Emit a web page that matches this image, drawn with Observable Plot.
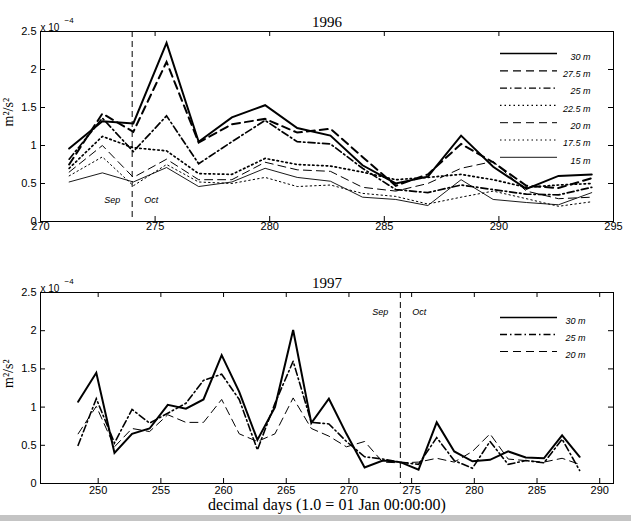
<!DOCTYPE html>
<html><head><meta charset="utf-8">
<script src="https://cdn.jsdelivr.net/npm/d3@7"></script>
<script src="https://cdn.jsdelivr.net/npm/@observablehq/plot@0.6"></script>
<style>
body{margin:0;background:#fff;}
#wrap{position:relative;width:631px;height:521px;overflow:hidden;background:#fff;}
#top,#bot{position:absolute;left:0;}
#top{top:0}
#bot{top:250px}
#strip{position:absolute;left:0;top:515px;width:631px;height:6px;background:#c4c4c4}
</style></head>
<body><div id="wrap"><div id="top"></div><div id="bot"></div><div id="strip"></div></div>
<script>
// ---------- 1996 data (values in units of 1e-4 m^2/s^2) ----------
const days1996 = [271.25, 272.7, 274.05, 275.5, 276.9, 278.35, 279.8, 281.2, 282.65, 284.05, 285.5, 286.9, 288.35, 289.75, 291.2, 292.6, 294.05];
const d96_30   = [0.96, 1.32, 1.29, 2.35, 1.05, 1.37, 1.53, 1.23, 1.13, 0.74, 0.50, 0.59, 1.13, 0.72, 0.43, 0.60, 0.62];
const d96_275  = [0.75, 1.42, 1.18, 2.10, 1.04, 1.28, 1.35, 1.17, 1.22, 0.85, 0.47, 0.62, 1.02, 0.78, 0.47, 0.44, 0.57];
const d96_25   = [0.82, 1.36, 0.92, 1.39, 0.76, 1.05, 1.33, 1.05, 1.02, 0.70, 0.42, 0.38, 0.48, 0.42, 0.36, 0.35, 0.45];
const d96_225  = [0.70, 1.12, 0.97, 0.93, 0.63, 0.62, 0.83, 0.75, 0.73, 0.65, 0.55, 0.58, 0.62, 0.55, 0.45, 0.48, 0.50];
const d96_20   = [0.65, 1.00, 0.58, 0.82, 0.55, 0.55, 0.78, 0.68, 0.66, 0.45, 0.40, 0.50, 0.70, 0.79, 0.40, 0.30, 0.32];
const d96_175  = [0.60, 0.85, 0.47, 0.75, 0.52, 0.50, 0.58, 0.46, 0.48, 0.37, 0.33, 0.23, 0.32, 0.40, 0.30, 0.20, 0.26];
const d96_15   = [0.52, 0.64, 0.52, 0.71, 0.46, 0.52, 0.70, 0.58, 0.53, 0.32, 0.29, 0.21, 0.55, 0.29, 0.25, 0.22, 0.38];
const labels1996 = ["30 m", "27.5 m", "25 m", "22.5 m", "20 m", "17.5 m", "15 m"];

// ---------- 1997 data ----------
const days1997 = [248.4, 249.85, 251.3, 252.7, 254.1, 255.55, 257.0, 258.4, 259.85, 261.25, 262.7, 264.1, 265.55, 267.0, 268.4, 269.8, 271.25, 272.7, 274.1, 275.55, 277.0, 278.4, 279.85, 281.25, 282.7, 284.1, 285.55, 287.0, 288.4];
const d97_30 = [1.07, 1.45, 0.40, 0.65, 0.72, 1.03, 0.98, 1.10, 1.68, 1.20, 0.57, 1.00, 2.01, 0.79, 1.11, 0.65, 0.21, 0.30, 0.28, 0.18, 0.80, 0.42, 0.29, 0.31, 0.42, 0.34, 0.33, 0.63, 0.35];
const d97_25 = [0.50, 1.11, 0.53, 0.97, 0.79, 0.92, 1.05, 1.35, 1.43, 1.10, 0.44, 1.05, 1.60, 0.80, 0.78, 0.55, 0.35, 0.32, 0.28, 0.25, 0.60, 0.30, 0.20, 0.55, 0.25, 0.30, 0.27, 0.58, 0.17];
const d97_20 = [0.65, 1.01, 0.48, 0.72, 0.68, 0.90, 0.80, 0.80, 1.10, 0.65, 0.55, 0.65, 1.12, 0.72, 0.62, 0.48, 0.55, 0.28, 0.27, 0.28, 0.33, 0.28, 0.42, 0.65, 0.32, 0.30, 0.28, 0.33, 0.25];
const labels1997 = ["30 m", "25 m", "20 m"];

// ---------- ticks ----------
const xTicks1996 = [270, 275, 280, 285, 290, 295];
const xTicks1997 = [250, 255, 260, 265, 270, 275, 280, 285, 290];
const yTicks = [0, 0.5, 1, 1.5, 2, 2.5];
const sepOct = [274, 274.1];

// ---------- styles ----------
const SOLID = null, DASH = "8,5", DASHDOT = "7,3,1.5,3", DOT = "1.5,3";
const styles1996 = [
  {w: 2, dash: SOLID}, {w: 2, dash: DASH}, {w: 1.7, dash: DASHDOT}, {w: 1.7, dash: DOT},
  {w: 1, dash: DASH}, {w: 1, dash: DOT}, {w: 0.9, dash: SOLID}
];
const styles1997 = [{w: 2, dash: SOLID}, {w: 1.6, dash: DASHDOT}, {w: 1, dash: DASH}];

const SANS = "'Liberation Sans', Arial, sans-serif";
const SERIF = "'Liberation Serif', 'Times New Roman', serif";

function panel(o) {
  const W = 631, ML = 40, MR = 18;
  const frameH = o.height - o.marginTop - o.marginBottom;
  const frameW = W - ML - MR;
  const marks = [];
  marks.push(Plot.frame({stroke: "black", strokeWidth: 1}));
  // inward ticks on all four sides
  marks.push(Plot.tickX(o.xTicks, {x: d => d, insetTop: frameH - 5, stroke: "black"}));
  marks.push(Plot.tickX(o.xTicks, {x: d => d, insetBottom: frameH - 5, stroke: "black"}));
  marks.push(Plot.tickY(yTicks, {y: d => d, insetRight: frameW - 5, stroke: "black"}));
  marks.push(Plot.tickY(yTicks, {y: d => d, insetLeft: frameW - 5, stroke: "black"}));
  marks.push(Plot.axisX(o.xTicks, {tickSize: 0, tickPadding: o.xPad, label: null, fontSize: 11}));
  marks.push(Plot.axisY(yTicks, {tickSize: 0, tickPadding: 4, label: null, fontSize: 11, tickFormat: d3.format("")}));
  // Sep / Oct divider
  marks.push(Plot.ruleX([o.sep], {x: d => d, stroke: "black", strokeWidth: 1, strokeDasharray: "6,4"}));
  marks.push(Plot.text(["Sep"], {x: () => o.sep, frameAnchor: o.sepAnchor, dy: o.sepDy, dx: -12, textAnchor: "end", fontStyle: "italic", fontSize: 9}));
  marks.push(Plot.text(["Oct"], {x: () => o.sep, frameAnchor: o.sepAnchor, dy: o.sepDy, dx: 12, textAnchor: "start", fontStyle: "italic", fontSize: 9}));
  // data lines
  o.series.forEach((ys, i) => {
    const rows = o.days.map((d, j) => ({day: d, v: ys[j]}));
    marks.push(Plot.line(rows, {x: "day", y: "v", stroke: "black", strokeWidth: o.styles[i].w, strokeDasharray: o.styles[i].dash, strokeLinejoin: "miter", strokeMiterlimit: 4}));
  });
  // legend
  o.labels.forEach((lab, i) => {
    const dy = o.legendDy0 + i * o.legendStep;
    marks.push(Plot.tickY([2.5], {y: d => d, dy, insetLeft: 460, insetRight: 56, stroke: "black", strokeWidth: Math.min(o.styles[i].w, 1.3), strokeDasharray: o.styles[i].dash}));
    marks.push(Plot.text([lab], {frameAnchor: "top-right", dx: o.legendDx, dy, textAnchor: "end", fontStyle: "italic", fontSize: 9}));
  });
  // title, multiplier, y label
  marks.push(Plot.text([o.title], {frameAnchor: "top", dy: -15, fontFamily: SERIF, fontSize: 15}));
  marks.push(Plot.text(["x 10"], {frameAnchor: "top-left", dy: -8, textAnchor: "start", fontSize: 10}));
  marks.push(Plot.text(["−4"], {frameAnchor: "top-left", dx: 24, dy: -14, textAnchor: "start", fontSize: 8}));
  marks.push(Plot.text(["m²/s²"], {frameAnchor: "left", dx: -32, rotate: -90, fontFamily: SERIF, fontSize: 14}));
  if (o.xlabel) marks.push(Plot.text([o.xlabel], {frameAnchor: "bottom", dy: 26, fontFamily: SERIF, fontSize: 16}));
  return Plot.plot({
    width: W, height: o.height,
    marginLeft: ML, marginRight: MR, marginTop: o.marginTop, marginBottom: o.marginBottom,
    x: {domain: o.xDomain},
    y: {domain: [0, 2.5]},
    style: {fontFamily: SANS, fontSize: "11px", background: "white", color: "black", overflow: "visible"},
    marks
  });
}

document.getElementById("top").append(panel({
  title: "1996", height: 250, marginTop: 31, marginBottom: 29,
  xDomain: [270, 295], xTicks: xTicks1996, xPad: 1,
  days: days1996, series: [d96_30, d96_275, d96_25, d96_225, d96_20, d96_175, d96_15],
  styles: styles1996, labels: labels1996,
  sep: sepOct[0], sepAnchor: "bottom", sepDy: -19,
  legendDy0: 22, legendStep: 17.3, legendDx: -23
}));

document.getElementById("bot").append(panel({
  title: "1997", height: 271, marginTop: 42, marginBottom: 38,
  xDomain: [245.4, 291.1], xTicks: xTicks1997, xPad: 3,
  days: days1997, series: [d97_30, d97_25, d97_20],
  styles: styles1997, labels: labels1997,
  sep: sepOct[1], sepAnchor: "top", sepDy: 16,
  legendDy0: 25, legendStep: 17, legendDx: -28,
  xlabel: "decimal days (1.0 = 01 Jan 00:00:00)"
}));
</script>
</body></html>
